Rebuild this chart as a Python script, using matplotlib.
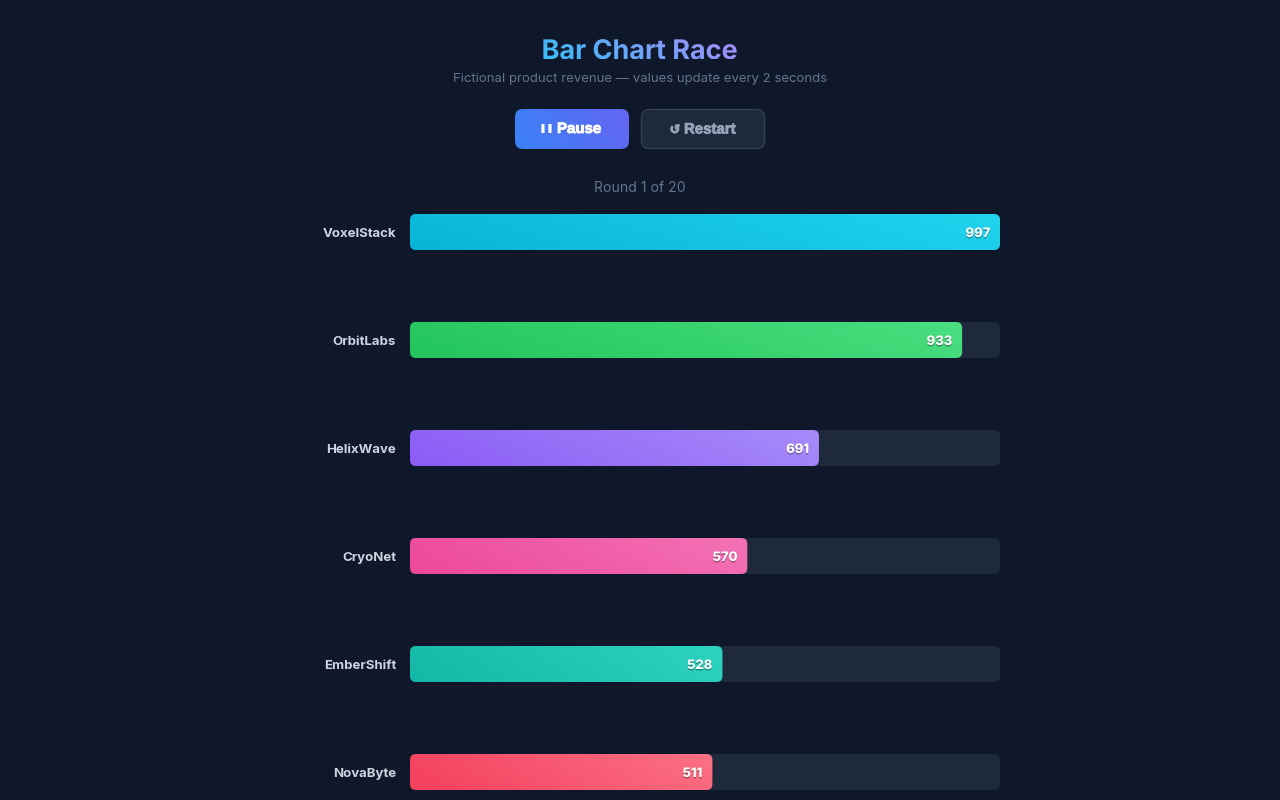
import numpy as np
import matplotlib
matplotlib.use("Agg")
import matplotlib.pyplot as plt
from matplotlib.patches import FancyBboxPatch, PathPatch
from matplotlib.textpath import TextPath
from matplotlib.font_manager import FontProperties
from matplotlib.transforms import Affine2D
import matplotlib.patheffects as pe
from matplotlib.colors import LinearSegmentedColormap

# ---- data ----
names = ["VoxelStack", "OrbitLabs", "HelixWave", "CryoNet", "EmberShift", "NovaByte"]
values = [997, 933, 691, 570, 528, 511]
color_start = ["#06b6d4", "#22c55e", "#8b5cf6", "#ec4899", "#14b8a6", "#f43f5e"]
color_end = ["#22d3ee", "#4ade80", "#a78bfa", "#f472b6", "#2dd4bf", "#fb7185"]
title = "Bar Chart Race"
subtitle = "Fictional product revenue \u2014 values update every 2 seconds"
round_text = "Round 1 of 20"
pause_icon, pause_label = "\u275a\u275a", "Pause"
restart_icon, restart_label = "\u21ba", "Restart"
max_value = max(values)

BG = "#0f172a"
TRACK = "#1e293b"
W, H = 1280, 800
plt.rcParams['font.family'] = ['Inter', 'DejaVu Sans']

fig = plt.figure(figsize=(12.8, 8), dpi=100, facecolor=BG)

def pt(px):
    return px * 0.72

# overlay axes in pixel coordinates (y up)
ov = fig.add_axes([0, 0, 1, 1])
ov.set_xlim(0, W)
ov.set_ylim(0, H)
ov.axis("off")
ov.set_facecolor("none")

def Y(ypx):
    return H - ypx

def gradient_fill(ax, patch, x0, x1, y0, y1, c0, c1, z=2):
    cmap = LinearSegmentedColormap.from_list("g", [c0, c1])
    gx = np.linspace(0, 1, 256)
    gy = np.linspace(0, 1, 32)
    X, Yg = np.meshgrid(gx, gy)
    grad = 0.85 * X + 0.15 * Yg
    im = ax.imshow(grad, cmap=cmap, extent=[x0, x1, y0, y1], origin="lower",
                   aspect="auto", zorder=z, interpolation="bilinear")
    im.set_clip_path(patch)
    return im

# ---- title with gradient ----
fp_title = FontProperties(family="Inter", weight="bold")
tp = TextPath((0, 0), title, size=27, prop=fp_title)
bb = tp.get_extents()
tx = W / 2 - bb.width / 2 - bb.x0
ty = Y(59)
tpath = tp.transformed(Affine2D().translate(tx, ty))
tpatch = PathPatch(tpath, facecolor="none", edgecolor="none")
ov.add_patch(tpatch)
tb = tpath.get_extents()
gradient_fill(ov, tpatch, tb.x0, tb.x1, tb.y0, tb.y1, "#38bdf8", "#a78bfa", z=3)
ov.set_xlim(0, W)
ov.set_ylim(0, H)

ov.text(W / 2, Y(79), subtitle, ha="center", va="center", color="#64748b",
        fontsize=pt(13.2))

# ---- buttons ----
btn_font = ['Liberation Sans', 'DejaVu Sans']
pause_box = FancyBboxPatch((515, Y(149)), 114, 40,
                           boxstyle="round,pad=0,rounding_size=8",
                           facecolor="none", edgecolor="none")
ov.add_patch(pause_box)
gradient_fill(ov, pause_box, 515, 629, Y(149), Y(109), "#3b82f6", "#6366f1", z=3)
ov.text(547, Y(128.5), pause_icon, ha="center", va="center", color="white",
        fontsize=pt(9.5), fontweight="bold", zorder=5, family=['DejaVu Sans'])
ov.text(557, Y(129), pause_label, ha="left", va="center", color="white",
        fontsize=pt(15), fontweight="bold", zorder=5, family=btn_font,
        path_effects=[pe.withStroke(linewidth=0.6, foreground="white")])

restart_box = FancyBboxPatch((641.5, Y(148.5)), 123, 39,
                             boxstyle="round,pad=0,rounding_size=8",
                             facecolor="#1e293b", edgecolor="#334155", linewidth=1)
ov.add_patch(restart_box)
ov.text(675, Y(130), restart_icon, ha="center", va="center", color="#94a3b8",
        fontsize=pt(12.5), fontweight="bold", zorder=5, family=['DejaVu Sans'],
        path_effects=[pe.withStroke(linewidth=0.8, foreground="#94a3b8")])
ov.text(684, Y(129.5), restart_label, ha="left", va="center", color="#94a3b8",
        fontsize=pt(15), fontweight="bold", zorder=5, family=btn_font,
        path_effects=[pe.withStroke(linewidth=0.6, foreground="#94a3b8")])

ov.text(W / 2, Y(188), round_text, ha="center", va="center", color="#64748b",
        fontsize=pt(14))

# ---- bar chart axes ----
# bars centred at 232 + 108*i px, track from x=410 to 1000 px
ax_left, ax_right = 410, 1000
ax_top, ax_bot = 214, 800
ax = fig.add_axes([ax_left / W, (H - ax_bot) / H, (ax_right - ax_left) / W,
                   (ax_bot - ax_top) / H])
ax.set_facecolor("none")
ax.axis("off")
ax.set_xlim(0, max_value)
y_top = (ax_top - 232) / 108
y_bot = (ax_bot - 232) / 108
ax.set_ylim(y_bot, y_top)

bar_h = 36 / 108
px_per_x = (ax_right - ax_left) / max_value
px_per_y = 108
r_px = 6
r_x = r_px / px_per_x
aspect = px_per_x / px_per_y
text_dy = 2 / 108

for i, (n, v, c0, c1) in enumerate(zip(names, values, color_start, color_end)):
    yc = i
    track = FancyBboxPatch((0, yc - bar_h / 2), max_value, bar_h,
                           boxstyle=f"round,pad=0,rounding_size={r_x}",
                           mutation_aspect=aspect,
                           facecolor=TRACK, edgecolor="none", zorder=1)
    ax.add_patch(track)
    bar = FancyBboxPatch((0, yc - bar_h / 2), v, bar_h,
                         boxstyle=f"round,pad=0,rounding_size={r_x}",
                         mutation_aspect=aspect,
                         facecolor="none", edgecolor="none", zorder=2)
    ax.add_patch(bar)
    gradient_fill(ax, bar, 0, v, yc + bar_h / 2, yc - bar_h / 2, c0, c1, z=2)
    ax.text(v - 10 / px_per_x, yc + text_dy, str(v), ha="right", va="center", color="white",
            fontsize=pt(13), fontweight="heavy", zorder=4,
            path_effects=[pe.withSimplePatchShadow(offset=(0, -1),
                                                   shadow_rgbFace="black", alpha=0.35)])
    ax.text(-14 / px_per_x, yc + text_dy, n, ha="right", va="center", color="#cbd5e1",
            fontsize=pt(13.2), fontweight="bold", clip_on=False)

ax.set_xlim(0, max_value)
ax.set_ylim(y_bot, y_top)

fig.savefig("out.png", dpi=100, facecolor=BG)
